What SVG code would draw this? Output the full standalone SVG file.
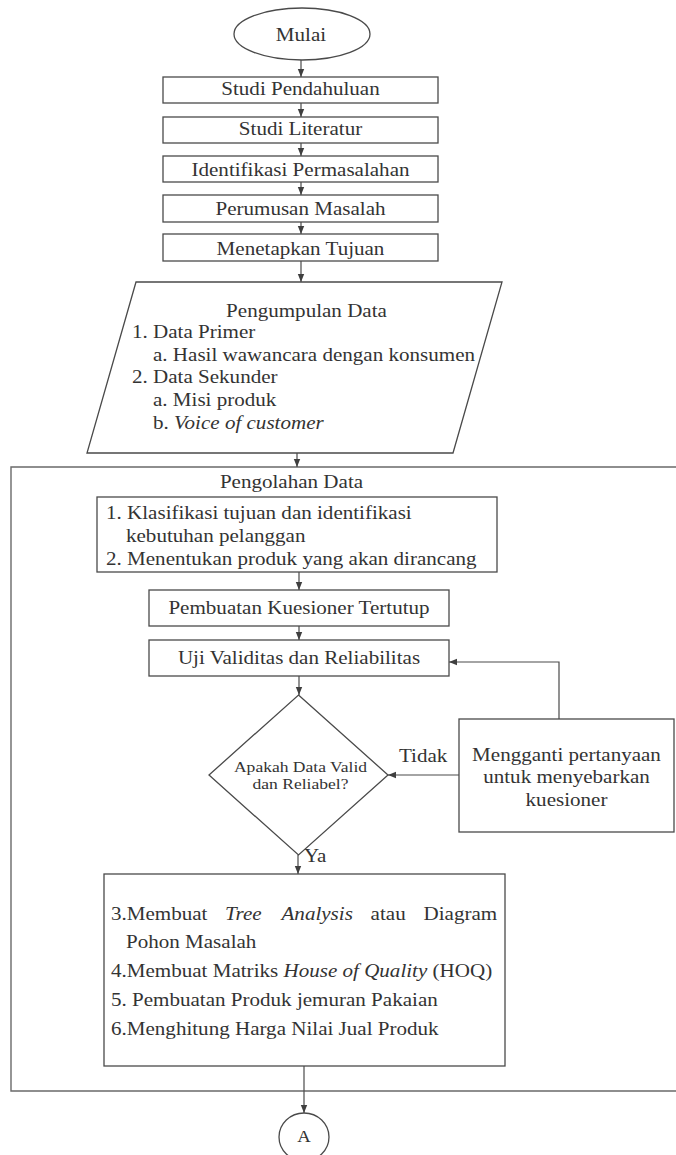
<svg xmlns="http://www.w3.org/2000/svg" width="676" height="1155" viewBox="0 0 676 1155">
<style>
  .bg{fill:#ffffff}
  .shape{fill:none;stroke:#4a4a4a;stroke-width:1.3}
  .box{fill:none;stroke:#4a4a4a;stroke-width:1.3}
  .frame{fill:none;stroke:#6a6a6a;stroke-width:1.4}
  .conn{fill:none;stroke:#4a4a4a;stroke-width:1.2}
  text{font-family:'Liberation Serif','DejaVu Serif',serif;font-size:18px;fill:#333333}
  .c{text-anchor:middle}
  .s{font-size:15px}
  .i{font-style:italic}
</style>
<defs>
  <marker id="arr" viewBox="0 0 10 10" refX="10" refY="5" markerWidth="8" markerHeight="8" markerUnits="userSpaceOnUse" orient="auto">
    <path d="M0,1 L10,5 L0,9 z" fill="#3f3f3f"/>
  </marker>
</defs>
<rect class="bg" x="0" y="0" width="676" height="1155"/>

<g id="frame-pengolahan">
  <path class="frame" d="M676,467 H11 V1091 H676"/>
  <text class="c" font-family="Liberation Serif, DejaVu Serif, serif" transform="translate(291.5 488) scale(1.17 1)">Pengolahan Data</text>
</g>

<g id="connectors">
  <line class="conn" x1="301" y1="60" x2="301" y2="77" marker-end="url(#arr)"/>
  <line class="conn" x1="301" y1="103" x2="301" y2="117" marker-end="url(#arr)"/>
  <line class="conn" x1="301" y1="143" x2="301" y2="156" marker-end="url(#arr)"/>
  <line class="conn" x1="301" y1="182" x2="301" y2="195" marker-end="url(#arr)"/>
  <line class="conn" x1="301" y1="222" x2="301" y2="234" marker-end="url(#arr)"/>
  <line class="conn" x1="301" y1="261" x2="301" y2="282" marker-end="url(#arr)"/>
  <line class="conn" x1="297" y1="453" x2="297" y2="467" marker-end="url(#arr)"/>
  <line class="conn" x1="299" y1="572" x2="299" y2="590" marker-end="url(#arr)"/>
  <line class="conn" x1="299" y1="626" x2="299" y2="640" marker-end="url(#arr)"/>
  <line class="conn" x1="299" y1="676" x2="299" y2="695" marker-end="url(#arr)"/>
  <line class="conn" x1="298" y1="855" x2="298" y2="874" marker-end="url(#arr)"/>
  <polyline class="conn" points="559,719 559,662 449,662" marker-end="url(#arr)"/>
  <line class="conn" x1="459" y1="775" x2="388" y2="775" marker-end="url(#arr)"/>
  <line class="conn" x1="304" y1="1066" x2="304" y2="1113" marker-end="url(#arr)"/>
  <text transform="translate(399 762) scale(1.17 1)">Tidak</text>
  <text transform="translate(304 862) scale(1.17 1)">Ya</text>
</g>

<g id="mulai">
  <ellipse class="shape" cx="302" cy="34" rx="68" ry="26"/>
  <text class="c" transform="translate(301 41) scale(1.17 1)">Mulai</text>
</g>

<g id="studi-pendahuluan">
  <rect class="box" x="163" y="77" width="275" height="26"/>
  <text class="c" transform="translate(300.5 95) scale(1.17 1)">Studi Pendahuluan</text>
</g>
<g id="studi-literatur">
  <rect class="box" x="163" y="117" width="275" height="26"/>
  <text class="c" transform="translate(300.5 135) scale(1.17 1)">Studi Literatur</text>
</g>
<g id="identifikasi">
  <rect class="box" x="163" y="156" width="275" height="26"/>
  <text class="c" transform="translate(300.5 175.5) scale(1.17 1)">Identifikasi Permasalahan</text>
</g>
<g id="perumusan">
  <rect class="box" x="163" y="195" width="275" height="27"/>
  <text class="c" transform="translate(300.5 215) scale(1.17 1)">Perumusan Masalah</text>
</g>
<g id="tujuan">
  <rect class="box" x="163" y="234" width="275" height="27"/>
  <text class="c" transform="translate(300.5 255) scale(1.17 1)">Menetapkan Tujuan</text>
</g>

<g id="pengumpulan-data">
  <polygon class="shape" points="136,282 502,282 453,453 87,453"/>
  <text class="c" transform="translate(306.5 317) scale(1.17 1)">Pengumpulan Data</text>
  <text transform="translate(132 338) scale(1.17 1)">1. Data Primer</text>
  <text transform="translate(153 361) scale(1.17 1)">a. Hasil wawancara dengan konsumen</text>
  <text transform="translate(132 383) scale(1.17 1)">2. Data Sekunder</text>
  <text transform="translate(153 406) scale(1.17 1)">a. Misi produk</text>
  <text transform="translate(153 429) scale(1.17 1)">b. <tspan class="i">Voice of customer</tspan></text>
</g>

<g id="klasifikasi">
  <rect class="box" x="97" y="497" width="400" height="75"/>
  <text transform="translate(106 519) scale(1.17 1)">1. Klasifikasi tujuan dan identifikasi</text>
  <text transform="translate(126 542) scale(1.17 1)">kebutuhan pelanggan</text>
  <text transform="translate(106 565) scale(1.17 1)">2. Menentukan produk yang akan dirancang</text>
</g>

<g id="kuesioner">
  <rect class="box" x="149" y="590" width="300" height="36"/>
  <text class="c" transform="translate(299 614) scale(1.17 1)">Pembuatan Kuesioner Tertutup</text>
</g>

<g id="uji">
  <rect class="box" x="149" y="640" width="300" height="36"/>
  <text class="c" transform="translate(299 664) scale(1.17 1)">Uji Validitas dan Reliabilitas</text>
</g>

<g id="keputusan">
  <polygon class="shape" points="298.5,695 388,775 298.5,855 209,775"/>
  <text class="s c" transform="translate(300.5 772) scale(1.17 1)">Apakah Data Valid</text>
  <text class="s c" transform="translate(300.5 789) scale(1.17 1)">dan Reliabel?</text>
</g>

<g id="mengganti">
  <rect class="box" x="459" y="719" width="215" height="113"/>
  <text class="c" transform="translate(566.5 761) scale(1.17 1)">Mengganti pertanyaan</text>
  <text class="c" transform="translate(566.5 783) scale(1.17 1)">untuk menyebarkan</text>
  <text class="c" transform="translate(566.5 806) scale(1.17 1)">kuesioner</text>
</g>

<g id="tahapan-lanjut">
  <rect class="box" x="104" y="874" width="401" height="192"/>
  <text transform="translate(111 920) scale(1.17 1)">3.Membuat</text>
  <text class="i" transform="translate(225 920) scale(1.17 1)">Tree</text>
  <text class="i" transform="translate(281.5 920) scale(1.17 1)">Analysis</text>
  <text transform="translate(370.6 920) scale(1.17 1)">atau</text>
  <text transform="translate(423.5 920) scale(1.17 1)">Diagram</text>
  <text transform="translate(126 948) scale(1.17 1)">Pohon Masalah</text>
  <text transform="translate(111 977) scale(1.17 1)">4.Membuat Matriks <tspan class="i">House of Quality</tspan> (HOQ)</text>
  <text transform="translate(111 1006) scale(1.17 1)">5. Pembuatan Produk jemuran Pakaian</text>
  <text transform="translate(111 1035) scale(1.17 1)">6.Menghitung Harga Nilai Jual Produk</text>
</g>

<g id="konektor-a">
  <ellipse class="shape" cx="304" cy="1137" rx="25" ry="24"/>
  <text class="c" style="font-size:16px" transform="translate(304 1142) scale(1.17 1)">A</text>
</g>
</svg>
